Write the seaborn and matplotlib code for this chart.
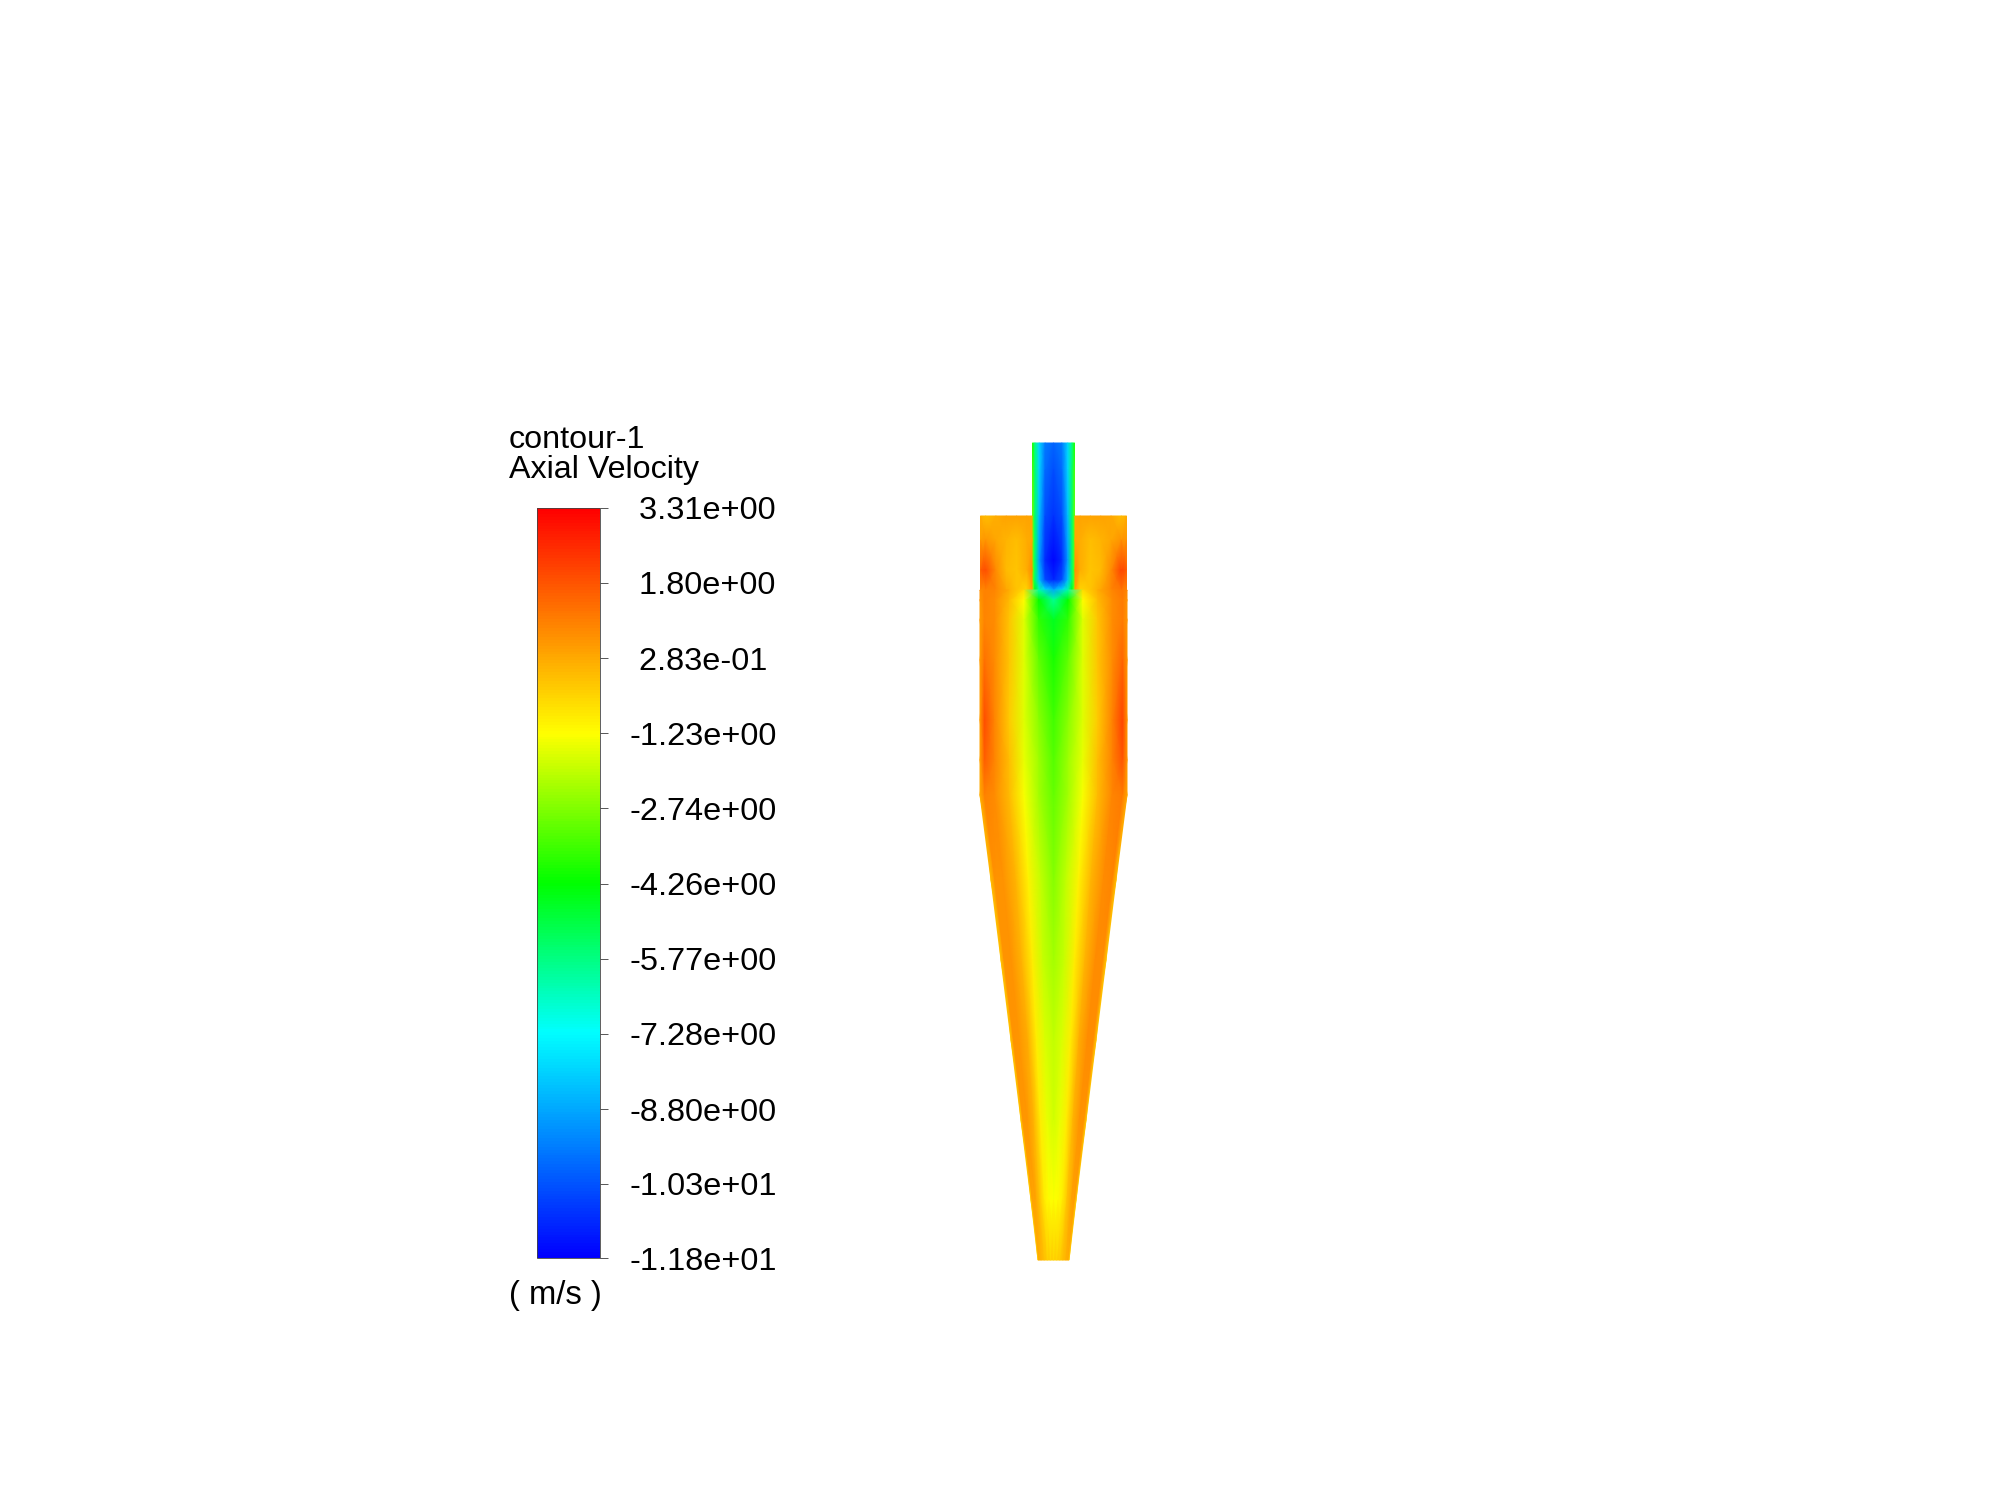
import numpy as np
import pandas as pd
import matplotlib
matplotlib.use("Agg")
import matplotlib.pyplot as plt
from matplotlib.colors import LinearSegmentedColormap
import seaborn as sns

# --- colour bar ---
niveis = [3.31, 1.80, 0.283, -1.23, -2.74, -4.26, -5.77, -7.28, -8.80, -10.3, -11.8]
rotulos = [" 3.31e+00", " 1.80e+00", " 2.83e-01", "-1.23e+00", "-2.74e+00", "-4.26e+00",
           "-5.77e+00", "-7.28e+00", "-8.80e+00", "-1.03e+01", "-1.18e+01"]
cores = [(0.0, "#0000ff"), (0.3, "#00ffff"), (0.5, "#00ff00"), (0.7, "#ffff00"), (1.0, "#ff0000")]

# --- outlet pipe: axial velocity read across the pipe at each height ---
tubo_y = [443, 470, 516, 560, 580, 590]
tubo_frac = [0, .06, .16, .3, .5, .7, .84, .94, 1]
tubo_443 = [-4.0, -5.8, -8.0, -9.6, -10.0, -9.6, -8.0, -5.8, -4.0]
tubo_470 = [-3.4, -5.6, -8.0, -9.9, -10.4, -9.9, -8.0, -5.6, -3.4]
tubo_516 = [-3.0, -5.5, -8.4, -10.4, -10.9, -10.4, -8.4, -5.5, -3.0]
tubo_560 = [-3.0, -5.5, -9.0, -11.0, -11.7, -11.0, -9.0, -5.5, -3.0]
tubo_580 = [-3.0, -5.5, -8.4, -10.4, -11.1, -10.4, -8.4, -5.5, -3.0]
tubo_590 = [-2.5, -4.5, -6.2, -7.8, -8.8, -7.8, -6.2, -4.5, -2.5]

# --- annular space on both sides of the pipe ---
anel_y = [516, 540, 570, 590]
anel_frac = [0, .1, .3, .5, .7, .9, 1]
anel_esq_516 = [0.2, -0.1, 0.2, 0.4, 0.4, 0.4, 0.3]
anel_esq_540 = [0.5, 0.6, 0.3, 0.1, -0.1, 0.2, 0.3]
anel_esq_570 = [1.6, 1.9, 0.8, 0.0, -0.2, 0.2, 0.8]
anel_esq_590 = [0.8, 1.0, 0.9, 0.3, -0.2, -0.5, 0.5]
anel_dir_516 = [0.3, 0.4, 0.4, 0.4, 0.3, -0.1, 0.2]
anel_dir_540 = [0.3, 0.2, -0.1, 0.1, 0.3, 0.7, 0.6]
anel_dir_570 = [0.8, 0.2, -0.2, 0.0, 0.8, 2.1, 1.7]
anel_dir_590 = [0.5, -0.5, -0.2, 0.3, 0.9, 1.2, 0.9]

# --- main body and cone ---
corpo_y = [590, 600, 620, 660, 720, 760, 795, 880, 960, 1040, 1120, 1200, 1260]
corpo_esq = [980, 980, 980, 980, 980, 980, 980, 991, 1001, 1011, 1021, 1031, 1038]
corpo_dir = [1127, 1127, 1127, 1127, 1127, 1127, 1127, 1116, 1106, 1096, 1086, 1076, 1069]
corpo_frac = [0, .03, .1, .2, .3, .4, .5, .6, .7, .8, .9, .97, 1]
corpo_590 = [0.8, 1.0, 0.9, 0.2, -0.6, -6.2, -8.8, -6.2, -0.6, 0.2, 0.9, 1.2, 0.9]
corpo_600 = [0.6, 1.0, 0.8, 0.0, -1.2, -4.2, -6.0, -4.2, -1.2, 0.0, 0.8, 1.1, 0.7]
corpo_620 = [0.5, 0.9, 0.8, -0.2, -1.6, -3.7, -4.6, -3.7, -1.6, -0.2, 0.8, 1.1, 0.6]
corpo_660 = [0.5, 1.3, 0.8, -0.2, -1.6, -3.1, -4.0, -3.1, -1.6, -0.2, 0.8, 1.5, 0.6]
corpo_720 = [0.5, 1.9, 0.9, -0.3, -1.6, -2.6, -3.5, -2.6, -1.6, -0.3, 1.0, 2.1, 0.7]
corpo_760 = [0.4, 1.6, 0.9, -0.1, -1.5, -2.4, -3.3, -2.4, -1.5, -0.1, 1.0, 1.8, 0.6]
corpo_795 = [0.2, 1.0, 0.8, 0.0, -1.3, -2.3, -3.1, -2.3, -1.3, 0.0, 0.9, 1.1, 0.3]
corpo_880 = [-0.1, 0.7, 0.7, 0.1, -1.0, -2.0, -2.7, -2.0, -1.0, 0.1, 0.8, 0.9, -0.1]
corpo_960 = [-0.2, 0.7, 0.7, 0.1, -0.9, -1.9, -2.3, -1.9, -0.9, 0.1, 0.8, 0.8, -0.2]
corpo_1040 = [-0.2, 0.7, 0.6, 0.2, -0.9, -1.7, -2.0, -1.7, -0.9, 0.2, 0.8, 0.8, -0.2]
corpo_1120 = [-0.2, 0.6, 0.6, 0.1, -0.9, -1.5, -1.8, -1.5, -0.9, 0.1, 0.7, 0.7, -0.2]
corpo_1200 = [-0.3, 0.4, 0.4, -0.2, -0.9, -1.2, -1.25, -1.2, -0.9, -0.2, 0.4, 0.5, -0.3]
corpo_1260 = [-0.3, 0.2, 0.1, -0.1, -0.3, -0.4, -0.4, -0.4, -0.3, -0.1, 0.1, 0.2, -0.3]

tubo = np.array([tubo_443, tubo_470, tubo_516, tubo_560, tubo_580, tubo_590])
anel_esq = np.array([anel_esq_516, anel_esq_540, anel_esq_570, anel_esq_590])
anel_dir = np.array([anel_dir_516, anel_dir_540, anel_dir_570, anel_dir_590])
corpo = np.array([corpo_590, corpo_600, corpo_620, corpo_660, corpo_720, corpo_760, corpo_795,
                  corpo_880, corpo_960, corpo_1040, corpo_1120, corpo_1200, corpo_1260])

sns.set_theme(style="white")
plt.rcParams['font.family'] = ['Liberation Sans', 'DejaVu Sans']

cmapa = LinearSegmentedColormap.from_list("fluent", cores, N=256)

fig = plt.figure(figsize=(20, 14.99), dpi=100, facecolor="white")
ax = fig.add_axes([0, 0, 1, 1])
cax = fig.add_axes([537 / 2000, 1 - 1258 / 1499, 63 / 2000, 750 / 1499])

# seaborn gives the scale and the colour bar; the field itself needs a curved mesh
tabela = pd.DataFrame(corpo, index=corpo_y, columns=corpo_frac)
sns.heatmap(tabela, ax=ax, cbar_ax=cax, cmap=cmapa, vmin=min(niveis), vmax=max(niveis),
            xticklabels=False, yticklabels=False, cbar_kws={"ticks": niveis})
malha = ax.collections[0]
malha.set_visible(False)


def desenha(esq, dir_, ys, frac, valores):
    X = np.outer(np.array(dir_) - np.array(esq), frac) + np.array(esq)[:, None]
    Y = np.repeat(np.array(ys)[:, None], len(frac), axis=1)
    ax.pcolormesh(X, Y, valores, shading="gouraud", cmap=malha.cmap, norm=malha.norm)


desenha([1032.5] * 6, [1074.5] * 6, tubo_y, tubo_frac, tubo)
desenha([980.5] * 4, [1032] * 4, anel_y, anel_frac, anel_esq)
desenha([1075] * 4, [1126.5] * 4, anel_y, anel_frac, anel_dir)
desenha(corpo_esq, corpo_dir, corpo_y, corpo_frac, corpo)

ax.set_xlim(0, 2000)
ax.set_ylim(1499, 0)
ax.set_xlabel("")
ax.set_ylabel("")
ax.axis("off")

cax.set_yticklabels(rotulos)
cax.tick_params(axis="y", right=True, length=5.8, width=0.7, color="#555555",
                labelsize=23.4, pad=15.5, labelcolor="black")
cax.spines["outline"].set_linewidth(0.6)
cax.spines["outline"].set_edgecolor("#444444")
cax.spines["outline"].set_visible(True)

ax.text(509, 448, "contour-1", fontsize=23.2, color="black", va="baseline")
ax.text(509, 478, "Axial Velocity", fontsize=23.2, color="black", va="baseline")
ax.text(509, 1304, "( m/s )", fontsize=23.6, color="black", va="baseline")

fig.savefig("out.png", dpi=100, facecolor="white")
plt.close(fig)
